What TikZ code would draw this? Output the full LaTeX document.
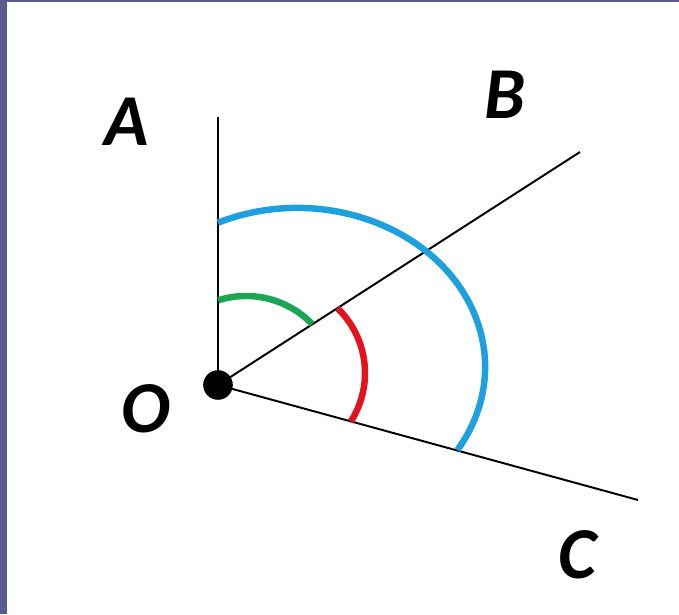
\documentclass[tikz,border=0pt]{standalone}
\usepackage{fontspec}
\setmainfont{Carlito}
\usepackage{tikz}
\usetikzlibrary{arrows.meta, calc}
\definecolor{framecol}{RGB}{90,90,140}
\definecolor{arcblue}{RGB}{28,160,222}
\definecolor{arcgreen}{RGB}{26,166,82}
\definecolor{arcred}{RGB}{226,20,30}
\tikzset{
  ray/.style={
    -,
    line width=1.4pt,
    color=black
  },
  angle arc/.style={
    line width=4.6pt
  },
  point label/.style={
    font=\fontsize{52}{56}\selectfont\bfseries\itshape,
    inner sep=0pt
  },
  vertex dot/.style={
    circle,
    fill=black,
    inner sep=0pt,
    minimum size=0.74cm
  }
}
\begin{document}
\begin{tikzpicture}[x=0.025cm, y=0.025cm]
    % 背景与边框
    \useasboundingbox (0,0) rectangle (679,614);
    \fill[white] (0,0) rectangle (679,614);
    \fill[framecol] (0,0) rectangle (7,614);
    \fill[framecol] (0,612) rectangle (679,614);

    % 顶点与射线端点
    \coordinate (O) at (218,229);
    \coordinate (A) at (218,497);
    \coordinate (B) at (580,462);
    \coordinate (C) at (638,114);

    % 射线
    \draw[ray] (O) -- (A);
    \draw[ray] (O) -- (B);
    \draw[ray] (O) -- (C);

    % 角弧：蓝 AOC，绿 AOB，红 BOC
    \draw[angle arc, arcblue] (218,391.3) arc[start angle=114.9, end angle=-31.5, x radius=188, y radius=159];
    \draw[angle arc, arcgreen] (218.2,313.7) arc[start angle=107.6, end angle=44, radius=92];
    \draw[angle arc, arcred] ($(275,241)+(46:90)$) arc[start angle=46, end angle=-32.5, radius=90];

    % 顶点
    \node[vertex dot] (dotO) at (O) {};

    % 字母
    \node[point label] (labA) at (127,492) {A};
    \node[point label] (labB) at (505,519) {B};
    \node[point label] (labO) at (146,205) {O};
    \node[point label] (labC) at (577,59) {C};

\end{tikzpicture}
\end{document}
